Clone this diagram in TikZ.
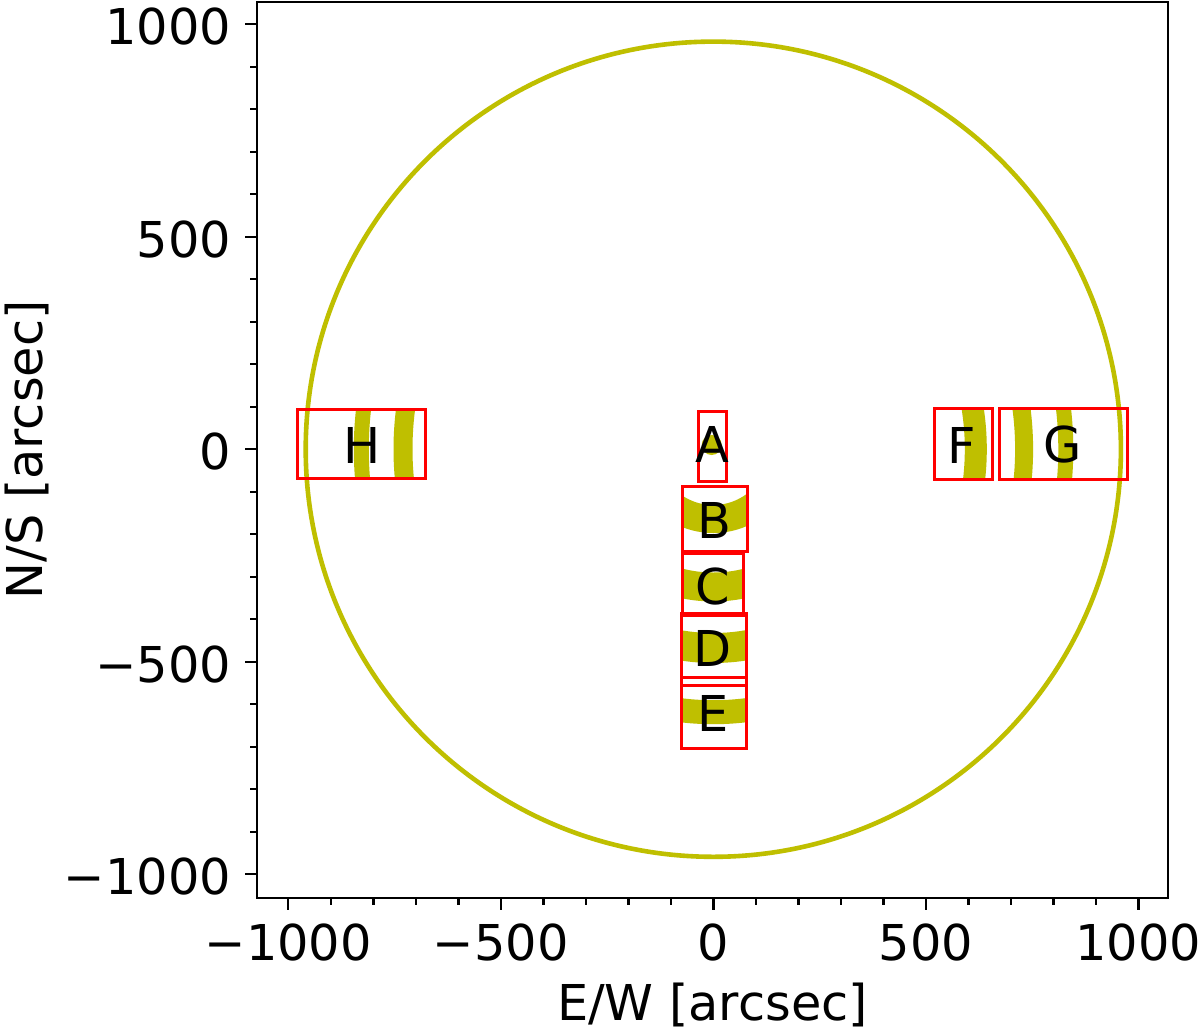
\documentclass[tikz,border=0pt]{standalone}
\usepackage{fontspec}
\setmainfont{DejaVu Sans}
\definecolor{oliv}{rgb}{0.75,0.75,0}
\begin{document}
\begin{tikzpicture}[x=0.5pt,y=-0.5pt,
  every node/.style={font=\fontsize{24.7}{29}\selectfont, inner sep=0pt, outer sep=0pt},
  spine/.style={line width=1.2pt, black},
  tk/.style={line width=1.2pt, black},
  box/.style={draw=red, line width=1.5pt},
  band/.style={draw=oliv},
  limb/.style={draw=oliv, line width=2.3pt}]
\useasboundingbox[fill=white] (0,0) rectangle (1200,1029);
\coordinate (O) at (713.3,449.2);
% limb
\draw[limb] (O) circle [radius=407.6];
% A: central disk
\fill[oliv] (711.7,445) circle [radius=10];
% bands clipped to boxes: x1,y1,x2,y2,radius,width(px)
\foreach \xa/\ya/\xb/\yb/\r/\w in {
  682.7/486/747.3/551/69.8/28,
  682.7/553/743.3/615/137.8/29,
  681.7/613/746/685/198.8/30,
  681.7/677/746/748/263/24,
  934/408.3/992.3/479/262.5/22,
  999/408.3/1127.3/479/310.8/18,
  999/408.3/1127.3/479/352.5/15,
  297.3/409/425/478.3/352/15,
  297.3/409/425/478.3/310.3/19}{
  \begin{scope}
    \clip (\xa,\ya) rectangle (\xb,\yb);
    \draw[band, line width=\w*0.5pt] (O) circle [radius=\r];
  \end{scope}
}
% boxes
\draw[box] (698.3,411.7) rectangle (726.7,481.7);
\draw[box] (682.7,486) rectangle (747.3,551);
\draw[box] (682.7,553) rectangle (743.3,615);
\draw[box] (681.7,613) rectangle (746,685);
\draw[box] (681.7,677) rectangle (746,748);
\draw[box] (934,408.3) rectangle (992.3,479);
\draw[box] (999,408.3) rectangle (1127.3,479);
\draw[box] (297.3,409) rectangle (425,478.3);
% letters
\node (lA) at (712,444) {A};
\node (lB) at (714,520) {B};
\node (lC) at (713,587) {C};
\node (lD) at (713,648) {D};
\node (lE) at (713,713) {E};
\node (lF) at (962,445) {F};
\node (lG) at (1063,445) {G};
\node (lH) at (362,445) {H};
% spines
\draw[spine] (257,2) rectangle (1168,898);
% ticks
\foreach \v in {-1000,-900,...,1000}{
  \draw[tk] ({713.3+0.425*\v},898) -- ++(0,6.7);
  \draw[tk] (257,{449.2-0.425*\v}) -- ++(-6.7,0);
}
\foreach \v in {-1000,-500,0,500,1000}{
  \draw[tk] ({713.3+0.425*\v},898) -- ++(0,11.7);
  \draw[tk] (257,{449.2-0.425*\v}) -- ++(-11.7,0);
}
% tick labels
\node[anchor=base] (x1) at (288.3,960) {−1000};
\node[anchor=base] (x2) at (500.8,960) {−500};
\node[anchor=base] (x3) at (713.3,960) {0};
\node[anchor=base] (x4) at (925.8,960) {500};
\node[anchor=base] (x5) at (1138.3,960) {1000};
\node[anchor=base east] (y1) at (231,{24.3+20.5}) {1000};
\node[anchor=base east] (y2) at (231,{236.7+20.5}) {500};
\node[anchor=base east] (y3) at (231,{449.2+20.5}) {0};
\node[anchor=base east] (y4) at (231,{661.7+20.5}) {−500};
\node[anchor=base east] (y5) at (231,{874.1+20.5}) {−1000};
% axis labels
\node[anchor=base] (xl) at (712.5,1020) {E/W [arcsec]};
\node[anchor=base, rotate=90] (yl) at (42,450) {N/S [arcsec]};
\end{tikzpicture}
\end{document}
